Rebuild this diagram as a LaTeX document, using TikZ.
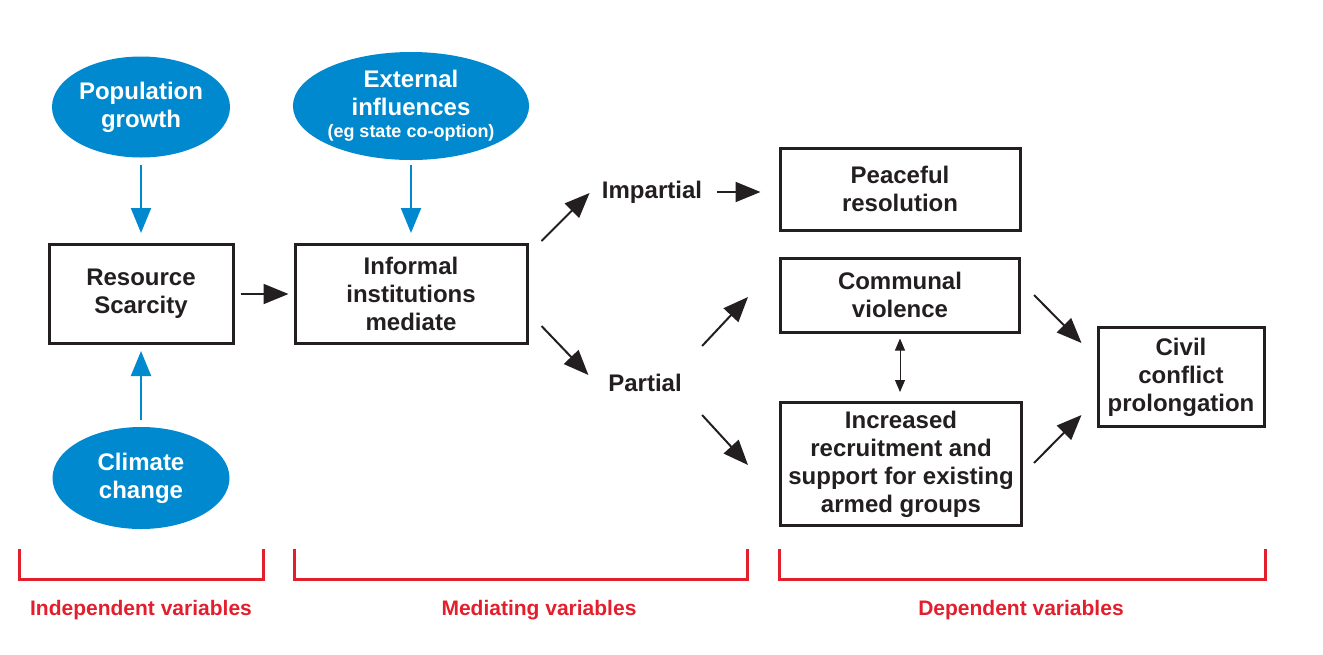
\documentclass[tikz,border=0pt]{standalone}
\usepackage{fontspec}
\setmainfont{Liberation Sans}
\usetikzlibrary{arrows.meta,shapes.geometric}
\definecolor{flowblue}{HTML}{0089CF}
\definecolor{flowred}{HTML}{E31E2D}
\definecolor{ink}{HTML}{231F20}
\tikzset{
  lbl/.style={font=\fontsize{12}{14}\selectfont\bfseries, align=center, inner sep=0pt, text=ink},
  box/.style={lbl, draw=ink, line width=1.5pt},
  blob/.style={lbl, ellipse, fill=flowblue, text=white},
  arr/.style={draw=ink, line width=1pt, -{Triangle[length=12.5pt,width=10pt]}},
  barr/.style={arr, draw=flowblue},
  twoway/.style={draw=ink, line width=0.5pt, {Triangle[length=6pt,width=5pt]}-{Triangle[length=6pt,width=5pt]}},
  brk/.style={draw=flowred, line width=1.5pt},
  grp/.style={font=\fontsize{10.5}{12}\selectfont\bfseries, text=flowred, inner sep=0pt}
}
\begin{document}
\begin{tikzpicture}[x=0.5pt,y=-0.5pt]
			\useasboundingbox (0,0) rectangle (1323,654);
			% independent variables
			\node[blob, minimum width=89pt, minimum height=50.5pt] (pop) at (141,107) {Population\\growth};
			\node[box, minimum width=92pt, minimum height=49.5pt] (res) at (141,294) {Resource\\Scarcity};
			\node[blob, minimum width=88.5pt, minimum height=51pt] (clim) at (141,478) {Climate\\change};
			% mediating variables
			\node[blob, minimum width=114pt, minimum height=54pt] (ext) at (411,106) {External\\influences\\[-3pt]{\fontsize{9}{11}\selectfont(eg state co-option)}};
			\node[box, minimum width=116pt, minimum height=49.5pt] (inf) at (411,294) {Informal\\institutions\\mediate};
			\node[lbl] (imp) at (652,192) {Impartial};
			\node[lbl] (par) at (645,383) {Partial};
			% dependent variables
			\node[box, minimum width=120pt, minimum height=41pt] (peace) at (900,189) {Peaceful\\resolution};
			\node[box, minimum width=119.5pt, minimum height=37pt] (comm) at (900,295) {Communal\\violence};
			\node[box, minimum width=120.5pt, minimum height=61.5pt] (incr) at (901,464) {Increased\\recruitment and\\support for existing\\armed groups};
			\node[box, minimum width=83pt, minimum height=49.5pt] (civ) at (1181,377) {Civil\\conflict\\prolongation};

			\draw[barr, shorten <=3.5pt, shorten >=5pt] (pop.south) -- (res.north);
			\draw[barr, shorten <=3.5pt, shorten >=3pt] (clim.north) -- (res.south);
			\draw[barr, shorten <=2.5pt, shorten >=5pt] (ext.south) -- (inf.north);
			\draw[arr, shorten <=3pt, shorten >=2.5pt] (res.east) -- (inf.west);
			\draw[arr] ([shift={(13,-2)}]inf.north east) -- ([shift={(-12,1)}]imp.west);
			\draw[arr] ([shift={(13,-19)}]inf.south east) -- ([shift={(-19.5,-8)}]par.west);
			\draw[arr, shorten <=7.5pt, shorten >=9pt] (imp.east) -- (imp.east -| peace.west);
			\draw[arr] ([shift={(20,-37)}]par.east) -- ([shift={(-31,2)}]comm.west);
			\draw[arr] ([shift={(20,32)}]par.east) -- ([shift={(-31,1)}]incr.west);
			\draw[arr] ([shift={(13,0)}]comm.east) -- ([shift={(-15,-34)}]civ.west);
			\draw[arr] ([shift={(11,-1)}]incr.east) -- ([shift={(-15,38)}]civ.west);
			\draw[twoway, shorten <=2.5pt, shorten >=4.5pt] (comm.south) -- (comm.south |- incr.north);

			% brackets and group labels
			\draw[brk] (19,549) |- (263,579) -- (263,549);
			\draw[brk] (294,549) |- (747,579) -- (747,549);
			\draw[brk] (779,549) |- (1265,579) -- (1265,549);
			\node[grp] (indep) at (141,610) {Independent variables};
			\node[grp] (medi) at (539,610) {Mediating variables};
			\node[grp] (dep) at (1021,610) {Dependent variables};
		\end{tikzpicture}
\end{document}
